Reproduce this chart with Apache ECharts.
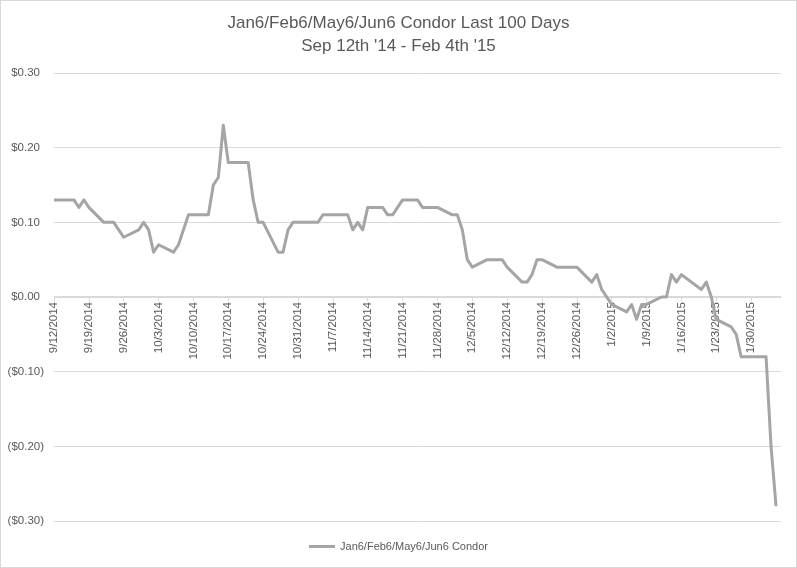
<!DOCTYPE html>
<html>
<head>
<meta charset="utf-8">
<script src="https://cdn.jsdelivr.net/npm/echarts@6/dist/echarts.min.js"></script>
<style>
html,body{margin:0;padding:0;background:#fff;}
#chart{width:797px;height:568px;box-sizing:border-box;border:1px solid #d9d9d9;}
</style>
</head>
<body>
<div id="chart"></div>
<script>
// Trading dates (M/D/YYYY) and condor values in dollars
var dates = [
'9/12/2014','9/15/2014','9/16/2014','9/17/2014','9/18/2014','9/19/2014','9/22/2014','9/23/2014','9/24/2014','9/25/2014','9/26/2014','9/29/2014','9/30/2014',
'10/1/2014','10/2/2014','10/3/2014','10/6/2014','10/7/2014','10/8/2014','10/9/2014','10/10/2014','10/13/2014','10/14/2014','10/15/2014','10/16/2014','10/17/2014','10/20/2014','10/21/2014','10/22/2014','10/23/2014','10/24/2014','10/27/2014','10/28/2014','10/29/2014','10/30/2014','10/31/2014',
'11/3/2014','11/4/2014','11/5/2014','11/6/2014','11/7/2014','11/10/2014','11/11/2014','11/12/2014','11/13/2014','11/14/2014','11/17/2014','11/18/2014','11/19/2014','11/20/2014','11/21/2014','11/24/2014','11/25/2014','11/26/2014','11/28/2014',
'12/1/2014','12/2/2014','12/3/2014','12/4/2014','12/5/2014','12/8/2014','12/9/2014','12/10/2014','12/11/2014','12/12/2014','12/15/2014','12/16/2014','12/17/2014','12/18/2014','12/19/2014','12/22/2014','12/23/2014','12/24/2014','12/26/2014','12/29/2014','12/30/2014','12/31/2014',
'1/2/2015','1/5/2015','1/6/2015','1/7/2015','1/8/2015','1/9/2015','1/12/2015','1/13/2015','1/14/2015','1/15/2015','1/16/2015','1/20/2015','1/21/2015','1/22/2015','1/23/2015','1/26/2015','1/27/2015','1/28/2015','1/29/2015','1/30/2015',
'2/2/2015','2/3/2015','2/4/2015'
];
var condor = [
0.13,0.13,0.13,0.12,0.13,0.12,0.10,0.10,0.10,0.09,0.08,0.09,0.10,
0.09,0.06,0.07,0.06,0.07,0.09,0.11,0.11,0.11,0.15,0.16,0.23,0.18,0.18,0.18,0.13,0.10,0.10,0.06,0.06,0.09,0.10,0.10,
0.10,0.10,0.11,0.11,0.11,0.11,0.09,0.10,0.09,0.12,0.12,0.11,0.11,0.12,0.13,0.13,0.12,0.12,0.12,
0.11,0.11,0.09,0.05,0.04,0.05,0.05,0.05,0.05,0.04,0.02,0.02,0.03,0.05,0.05,0.04,0.04,0.04,0.04,0.02,0.03,0.01,
-0.01,-0.02,-0.01,-0.03,-0.01,-0.01,0.00,0.00,0.03,0.02,0.03,0.01,0.02,0.00,-0.03,-0.04,-0.05,-0.08,-0.08,-0.08,
-0.08,-0.20,-0.28
];
var seriesName = 'Jan6/Feb6/May6/Jun6 Condor';
var titleText = 'Jan6/Feb6/May6/Jun6 Condor Last 100 Days\nSep 12th \'14 - Feb 4th \'15';
var yTicks = [-0.3, 0.3, 0.1]; // min, max, interval
var xStart = '9/12/2014';
var xEnd = '2/5/2015';

var DAY = 86400000;
function parseD(s){ var p = s.split('/'); return Date.UTC(+p[2], +p[0]-1, +p[1]); }
var t0 = parseD(xStart);
var data = dates.map(function(d,i){ return [(parseD(d)-t0)/DAY, condor[i]]; });
var xMax = (parseD(xEnd)-t0)/DAY;

var W = 797, H = 568;
var G = {left:53, right:15, top:72, bottom:46};
var plotH = H - G.top - G.bottom;
// lift the date axis from the bottom edge up to the zero line
var zeroOffset = -plotH * (0 - yTicks[0]) / (yTicks[1] - yTicks[0]);

var font = "'Liberation Sans', Arial, sans-serif";
var chart = echarts.init(document.getElementById('chart'), null, {renderer:'canvas'});
chart.setOption({
  animation:false,
  backgroundColor:'#fff',
  title:{
    text:titleText, left:'center', top:6,
    textStyle:{fontFamily:font, fontSize:17, fontWeight:'normal', color:'#595959', lineHeight:23}
  },
  legend:{
    bottom:10, left:'center', icon:'rect', itemWidth:26, itemHeight:3, itemGap:4,
    textStyle:{fontFamily:font, fontSize:11, color:'#595959'},
    data:[seriesName]
  },
  grid:{left:G.left, right:G.right, top:G.top, bottom:G.bottom, containLabel:false, outerBoundsMode:'none'},
  xAxis:{
    type:'value', min:0, max:xMax, interval:7, position:'bottom', offset:zeroOffset,
    axisLine:{show:true, onZero:false, lineStyle:{color:'#d9d9d9', width:1}},
    axisTick:{show:true, length:5, lineStyle:{color:'#d9d9d9'}},
    splitLine:{show:false},
    axisLabel:{
      rotate:90, margin:6, color:'#595959', fontFamily:font, fontSize:11.5,
      showMaxLabel:false,
      formatter:function(v){
        if (Math.round(v)%7!==0) return '';
        var d = new Date(t0 + Math.round(v)*DAY);
        return (d.getUTCMonth()+1)+'/'+d.getUTCDate()+'/'+d.getUTCFullYear();
      }
    }
  },
  yAxis:{
    type:'value', min:yTicks[0], max:yTicks[1], interval:yTicks[2],
    axisLine:{show:false}, axisTick:{show:false},
    splitLine:{lineStyle:{color:'#d9d9d9', width:1}},
    axisLabel:{
      margin:10, color:'#595959', fontFamily:font, fontSize:11.5,
      formatter:function(v){
        if (Math.abs(v)<1e-9) v = 0;
        if (v>=0) return '{p|$'+v.toFixed(2)+'}';
        return '($'+(-v).toFixed(2)+')';
      },
      rich:{p:{padding:[0,4,0,0], color:'#595959', fontFamily:font, fontSize:11.5}}
    }
  },
  series:[{
    name:seriesName, type:'line', data:data, showSymbol:false, symbol:'none',
    lineStyle:{color:'#a5a5a5', width:3, join:'round'},
    itemStyle:{color:'#a5a5a5'}
  }]
});
</script>
</body>
</html>
